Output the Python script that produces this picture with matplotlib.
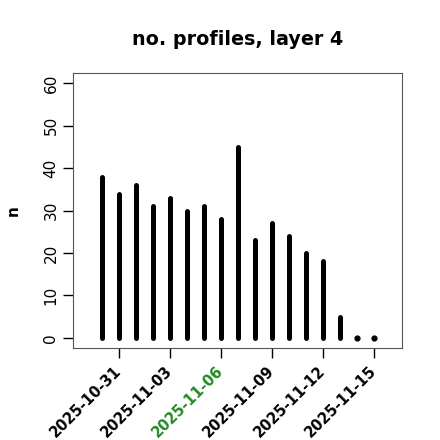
import matplotlib
matplotlib.use("Agg")
import matplotlib.pyplot as plt
import matplotlib.dates as mdates
import numpy as np
import datetime as dt

# daily profile counts, layer 4
dates = [dt.date(2025, 10, 30) + dt.timedelta(days=i) for i in range(17)]
counts = [38, 34, 36, 31, 33, 30, 31, 28, 45, 23, 27, 24, 20, 18, 5, 0, 0]
tick_dates = [dt.date(2025, 10, 31), dt.date(2025, 11, 3), dt.date(2025, 11, 6),
              dt.date(2025, 11, 9), dt.date(2025, 11, 12), dt.date(2025, 11, 15)]
highlight = dt.date(2025, 11, 6)

x = mdates.date2num(dates)
counts = np.array(counts)

fig = plt.figure(figsize=(4.4, 4.4), dpi=100)
ax = fig.add_axes([0.166, 0.209, 0.748, 0.625])

ax.vlines(x, 0, counts, colors="black", linewidth=3.6, capstyle="round")
zero = counts == 0
ax.scatter(x[zero], counts[zero], s=12, color="black", zorder=3)

ax.set_xlim(x[0] - 1.7, x[-1] + 1.65)
ax.set_ylim(-2.4, 62.4)
ax.set_yticks(range(0, 61, 10))
ax.set_yticklabels([str(v) for v in range(0, 61, 10)], rotation=90, va="center", fontsize=11)

ax.set_xticks(mdates.date2num(tick_dates))
labels = ax.set_xticklabels([d.strftime("%Y-%m-%d") for d in tick_dates],
                            rotation=45, ha="right", va="center", rotation_mode="anchor",
                            fontsize=10.5, fontweight="bold")
for lab, d in zip(labels, tick_dates):
    if d == highlight:
        lab.set_color("forestgreen")

ax.tick_params(axis="both", direction="out", length=7, width=1)
ax.tick_params(axis="x", pad=8)
for s in ax.spines.values():
    s.set_color("#555555")

ax.set_ylabel("n", fontweight="bold", fontsize=11, labelpad=16)
ax.set_title("no. profiles, layer 4", fontweight="bold", fontsize=13.8, pad=20)

fig.savefig("out.png", dpi=100)
